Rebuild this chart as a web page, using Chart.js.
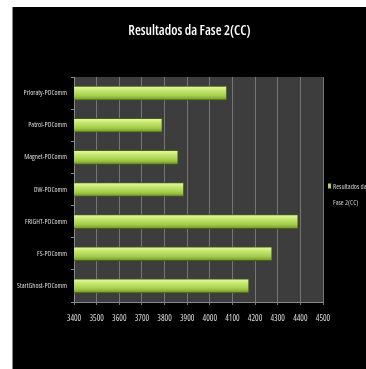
<!DOCTYPE html>
<html><head><meta charset="utf-8">
<script src="https://cdn.jsdelivr.net/npm/chart.js@4/dist/chart.umd.min.js"></script>
<style>
html,body{margin:0;padding:0;background:#fff;}
#wrap{position:absolute;left:12px;top:7px;width:354px;height:362px;background:#000;border-left:1px solid #8a8a8a;box-sizing:border-box;}
canvas{display:block;}
</style></head>
<body>
<div id="wrap"><canvas id="c" width="353" height="362"></canvas></div>
<script>
const categories = ["Prioraty-POComm","Patrol-POComm","Magnet-POComm","DW-POComm","FRIGHT-POComm","FS-POComm","StartGhost-POComm"];
const seriesName = "Resultados da Fase 2(CC)";
const legendLines = ["Resultados da", "Fase 2(CC)"];
const values = [4075, 3790, 3860, 3885, 4390, 4275, 4173];
const xTicks = [3400,3500,3600,3700,3800,3900,4000,4100,4200,4300,4400,4500];

const FAMILY = "'Open Sans', sans-serif";
const STRETCH = 'condensed';

const plotBg = {
  id:'plotBg',
  beforeDraw(chart){
    const {ctx, chartArea:a} = chart;
    ctx.save();
    ctx.fillStyle = '#3d3d3d';
    ctx.fillRect(a.left, a.top, a.right-a.left, a.bottom-a.top);
    ctx.restore();
  }
};
const customLegend = {
  id:'customLegend',
  afterDraw(chart){
    const ctx = chart.ctx;
    const a = chart.chartArea;
    const cy = (a.top + a.bottom) / 2;
    ctx.save();
    ctx.fillStyle = '#a8d64e';
    ctx.fillRect(a.right + 5, cy - 6, 3, 5);
    ctx.fillStyle = '#d0d0d0';
    ctx.font = STRETCH + ' 7px ' + FAMILY;
    ctx.textBaseline = 'middle';
    ctx.fillText(legendLines[0], a.right + 10, cy - 3);
    ctx.fillText(legendLines[1], a.right + 10, cy + 13);
    ctx.restore();
  }
};

function barGradient(context){
  const chart = context.chart;
  const y = chart.scales && chart.scales.y;
  if (!y || !chart.chartArea) return '#b0d85a';
  const cy = y.getPixelForValue(context.dataIndex);
  const g = chart.ctx.createLinearGradient(0, cy-7, 0, cy+7);
  g.addColorStop(0, '#e6fca8');
  g.addColorStop(0.3, '#c6e872');
  g.addColorStop(0.7, '#a4cc4a');
  g.addColorStop(1, '#70942a');
  return g;
}

new Chart(document.getElementById('c'), {
  type:'bar',
  data:{ labels: categories, datasets:[{ label: seriesName, data: values,
    backgroundColor: barGradient, borderColor:'#465f14', borderWidth:1, borderSkipped:false, barThickness:14 }]},
  options:{
    indexAxis:'y',
    responsive:false,
    animation:false,
    devicePixelRatio:1,
    layout:{ padding:0 },
    plugins:{
      legend:{ display:false },
      tooltip:{ enabled:false },
      title:{ display:true, text: seriesName, color:'#ffffff',
        font:{ family: FAMILY, size:13.5, weight: '600 ' + STRETCH, lineHeight:1.2 }, padding:{ top:16, bottom:37.8 } }
    },
    scales:{
      x:{ min:3400, max:4500, position:'bottom',
        afterBuildTicks(s){ s.ticks = xTicks.map(v=>({value:v})); },
        afterFit(s){ s.height = 67; },
        grid:{ color:'#767676', lineWidth:1, tickLength:3, drawTicks:true, tickColor:'#767676' },
        border:{ color:'#8a8a8a' },
        ticks:{ color:'#dcdcdc', font:{ family: FAMILY, size:8.5, weight: STRETCH }, padding:8, maxRotation:0, autoSkip:false,
          callback:(v)=>String(v) }
      },
      y:{ afterFit(s){ s.width = 61; },
        grid:{ drawOnChartArea:false, tickLength:3, tickColor:'#8a8a8a', offset:true },
        border:{ color:'#8a8a8a' },
        ticks:{ color:'#dcdcdc', font:{ family: FAMILY, size:7, weight: STRETCH }, padding:4 }
      },
      legendSpace:{ type:'linear', position:'right', display:true,
        afterFit(s){ s.width = 43; },
        grid:{ display:false, drawOnChartArea:false },
        border:{ display:false },
        ticks:{ display:false }
      }
    }
  },
  plugins:[plotBg, customLegend]
});
</script>
</body></html>
